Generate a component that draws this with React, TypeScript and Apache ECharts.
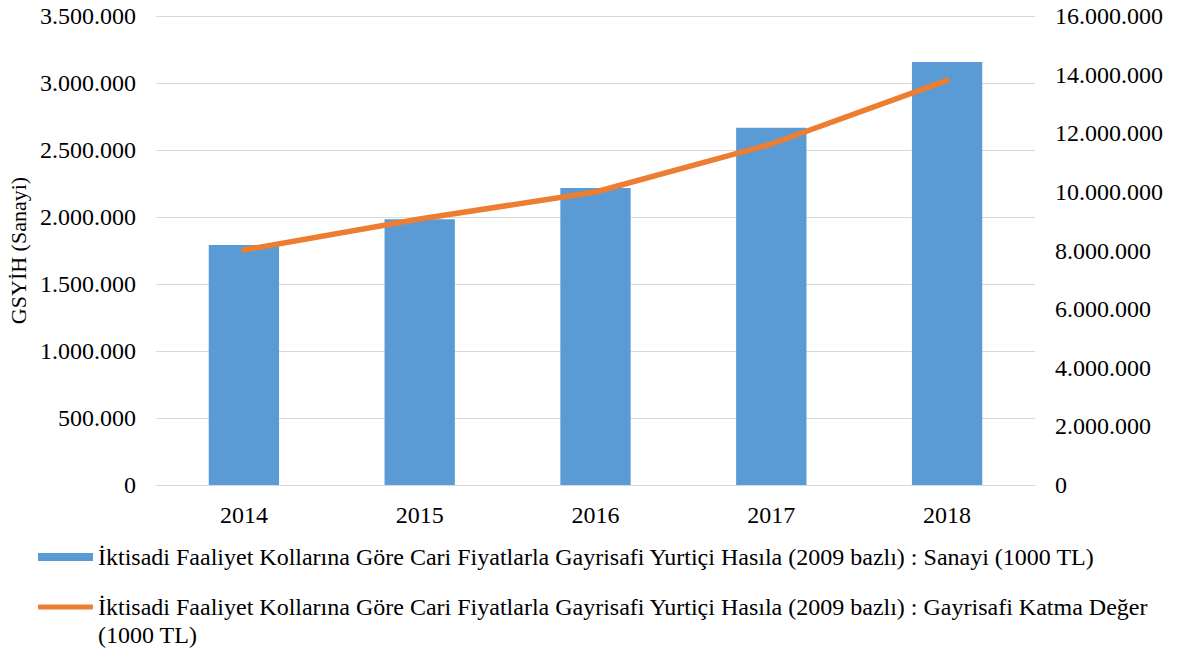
import React, { useEffect, useRef } from "react";
import * as echarts from "echarts";

const years = ["2014", "2015", "2016", "2017", "2018"];
const sanayi = [1791000, 1983000, 2216000, 2666000, 3157000];
const katmaDeger = [8017000, 9075000, 9996000, 11633000, 13806000];

const nameBar =
  "İktisadi Faaliyet Kollarına Göre Cari Fiyatlarla Gayrisafi Yurtiçi Hasıla (2009 bazlı) : Sanayi (1000 TL)";
const nameLine =
  "İktisadi Faaliyet Kollarına Göre Cari Fiyatlarla Gayrisafi Yurtiçi Hasıla (2009 bazlı) : Gayrisafi Katma Değer (1000 TL)";

const FONT = "Liberation Serif";

const fmt = (v: number) => String(Math.round(v)).replace(/\B(?=(\d{3})+(?!\d))/g, ".");

export default function App() {
  const ref = useRef<HTMLDivElement>(null);
  useEffect(() => {
    if (!ref.current) return;
    const chart = echarts.init(ref.current, undefined, { renderer: "svg" });
    const LH = 28;
    chart.setOption({
      animation: false,
      textStyle: { fontFamily: FONT, color: "#000" },
      grid: { left: 156, right: 145, top: 16, bottom: 170, containLabel: false, outerBoundsMode: "none" },
      legend: [
        {
          data: [{ name: nameBar, icon: "rect" }],
          left: 38,
          top: 543,
          padding: 0,
          itemWidth: 55,
          itemHeight: 8,
          textStyle: { fontFamily: FONT, fontSize: 24, color: "#000", lineHeight: LH },
        },
        {
          data: [{ name: nameLine, icon: "roundRect" }],
          left: 38,
          top: 565,
          padding: 0,
          itemWidth: 55,
          itemHeight: 5,
          formatter: () =>
            "\nİktisadi Faaliyet Kollarına Göre Cari Fiyatlarla Gayrisafi Yurtiçi Hasıla (2009 bazlı) : Gayrisafi Katma Değer\n(1000 TL)",
          textStyle: {
            fontFamily: FONT,
            fontSize: 24,
            color: "#000",
            lineHeight: LH,
          },
        },
      ],
      xAxis: {
        type: "category",
        data: years,
        axisLine: { lineStyle: { color: "#D9D9D9", width: 1 } },
        axisTick: { show: false },
        axisLabel: { fontFamily: FONT, fontSize: 24, color: "#000", margin: 18 },
      },
      yAxis: [
        {
          type: "value",
          min: 0,
          max: 3500000,
          interval: 500000,
          name: "GSYİH (Sanayi)",
          nameLocation: "middle",
          nameRotate: 90,
          nameGap: 127,
          nameTextStyle: { fontFamily: FONT, fontSize: 22, color: "#000" },
          axisLabel: { fontFamily: FONT, fontSize: 24, color: "#000", margin: 20, formatter: fmt },
          axisLine: { show: false },
          axisTick: { show: false },
          splitLine: { lineStyle: { color: "#D9D9D9", width: 1 } },
        },
        {
          type: "value",
          min: 0,
          max: 16000000,
          interval: 2000000,
          position: "right",
          axisLabel: { fontFamily: FONT, fontSize: 24, color: "#000", margin: 20, formatter: fmt },
          axisLine: { show: false },
          axisTick: { show: false },
          splitLine: { show: false },
        },
      ],
      series: [
        {
          name: nameBar,
          type: "bar",
          data: sanayi,
          barWidth: "40%",
          itemStyle: { color: "#5B9BD5" },
          yAxisIndex: 0,
        },
        {
          name: nameLine,
          type: "line",
          data: katmaDeger,
          yAxisIndex: 1,
          symbol: "none",
          showSymbol: false,
          lineStyle: { color: "#ED7D31", width: 5.5, cap: "round" },
          itemStyle: { color: "#ED7D31" },
        },
      ],
    });
    return () => chart.dispose();
  }, []);
  return <div ref={ref} style={{ width: 1180, height: 655, position: "absolute", left: 0, top: 0 }} />;
}
